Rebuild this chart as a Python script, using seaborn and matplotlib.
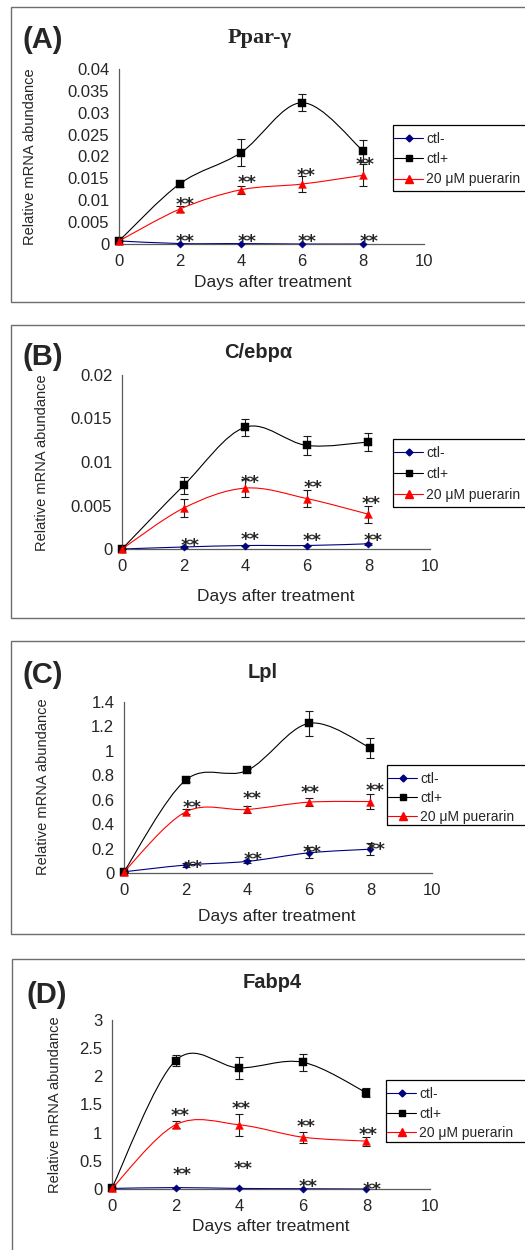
import numpy as np
import matplotlib
matplotlib.use("Agg")
import matplotlib.pyplot as plt
import seaborn as sns
from matplotlib.path import Path
from matplotlib.patches import PathPatch, Rectangle
from matplotlib.lines import Line2D
from matplotlib.transforms import offset_copy

# ---- data ----
days = [0, 2, 4, 6, 8]
groups = ["ctl-", "ctl+", "20 μM puerarin"]
genes = ["Ppar-γ", "C/ebpα", "Lpl", "Fabp4"]
panel_tags = ["(A)", "(B)", "(C)", "(D)"]

pparg_neg = [0.0007, 0.0001, 0.0001, 0.0, 0.0]
pparg_neg_err = [0.0, 0.0, 0.0, 0.0, 0.0]
pparg_pos = [0.0007, 0.0138, 0.0209, 0.0323, 0.0213]
pparg_pos_err = [0.0001, 0.0007, 0.003, 0.002, 0.0025]
pparg_pue = [0.0007, 0.0080, 0.0124, 0.0137, 0.0157]
pparg_pue_err = [0.0001, 0.0007, 0.0009, 0.0018, 0.0025]

cebpa_neg = [0.0, 0.00023, 0.0004, 0.0004, 0.0006]
cebpa_neg_err = [0.0, 0.0001, 0.0001, 0.0001, 0.0001]
cebpa_pos = [0.0, 0.0073, 0.0140, 0.0119, 0.0123]
cebpa_pos_err = [0.0, 0.001, 0.001, 0.0011, 0.001]
cebpa_pue = [0.0, 0.0047, 0.0070, 0.0058, 0.0040]
cebpa_pue_err = [0.0, 0.001, 0.001, 0.001, 0.001]

lpl_neg = [0.01, 0.065, 0.095, 0.165, 0.195]
lpl_neg_err = [0.0, 0.015, 0.01, 0.045, 0.05]
lpl_pos = [0.01, 0.76, 0.84, 1.225, 1.025]
lpl_pos_err = [0.0, 0.015, 0.015, 0.1, 0.08]
lpl_pue = [0.01, 0.50, 0.52, 0.58, 0.585]
lpl_pue_err = [0.0, 0.02, 0.025, 0.035, 0.06]

fabp4_neg = [0.01, 0.025, 0.01, 0.005, 0.0]
fabp4_neg_err = [0.0, 0.0, 0.0, 0.0, 0.0]
fabp4_pos = [0.02, 2.28, 2.15, 2.25, 1.71]
fabp4_pos_err = [0.0, 0.09, 0.2, 0.15, 0.08]
fabp4_pue = [0.01, 1.14, 1.14, 0.92, 0.85]
fabp4_pue_err = [0.0, 0.06, 0.2, 0.1, 0.08]

# y axis: top and step
ymax = [0.04, 0.02, 1.4, 3.0]
ystep = [0.005, 0.005, 0.2, 0.5]

# significance marks "**" (centre x, centre y in data units)
star_x = [[2.16, 4.19, 6.13, 8.07, 2.16, 4.19, 6.17, 8.2],
          [4.16, 6.2, 8.08, 2.2, 4.16, 6.16, 8.14],
          [2.2, 4.15, 6.04, 8.15, 2.25, 4.2, 6.12, 8.2],
          [2.14, 4.05, 6.1, 8.06, 2.19, 4.13, 6.17, 8.18]]
star_y = [[0.0100, 0.0152, 0.0166, 0.0192, 0.0016, 0.0016, 0.0016, 0.0016],
          [0.0082, 0.0076, 0.0058, 0.00096, 0.0016, 0.0015, 0.0015],
          [0.571, 0.644, 0.693, 0.715, 0.082, 0.15, 0.204, 0.226],
          [1.39, 1.51, 1.19, 1.05, 0.33, 0.44, 0.124, 0.07]]

means = [[pparg_neg, pparg_pos, pparg_pue], [cebpa_neg, cebpa_pos, cebpa_pue],
         [lpl_neg, lpl_pos, lpl_pue], [fabp4_neg, fabp4_pos, fabp4_pue]]
errs = [[pparg_neg_err, pparg_pos_err, pparg_pue_err], [cebpa_neg_err, cebpa_pos_err, cebpa_pue_err],
        [lpl_neg_err, lpl_pos_err, lpl_pue_err], [fabp4_neg_err, fabp4_pos_err, fabp4_pue_err]]

# ---- layout (pixels, top-left origin) ----
W, H = 525, 1250
axes_px = [(119, 69, 424, 244), (122, 375, 430, 549), (124, 702, 432, 873), (112, 1020, 430, 1189)]
frame_px = [(11, 7, 540, 302), (11, 325, 540, 618), (11, 641, 540, 934), (12, 959, 540, 1275)]
title_px = [(260, 38), (258, 353), (263, 672), (272, 982)]
tag_px = [(22, 40), (22, 357), (22, 675), (27, 995)]
ylab_px = [(30, 157), (42, 463), (43, 787), (55, 1105)]
xlab_px = [(273, 283), (276, 597), (277, 917), (271, 1226)]
legend_px = [(393, 125, 191, 0.45), (393, 439, 507, 0.5), (387, 765, 825, 0.35), (386, 1080, 1142, 0.4)]

colors = ["#000080", "#000000", "#FF0000"]
markers = ["D", "s", "^"]
msizes = [14, 28, 32]
leg_ms = [3.5, 5, 5.5]
star_fs = 13

sns.set_style("white")
plt.rcParams["font.family"] = ["Liberation Sans", "DejaVu Sans"]


def fx(x, y):
    return x / W, 1 - y / H


def smooth_path(xs, ys):
    # Excel-style smoothed line as cubic Bezier segments
    pts = np.column_stack([xs, ys]).astype(float)
    n = len(pts)
    verts = [pts[0]]
    codes = [Path.MOVETO]
    for i in range(n - 1):
        p0 = pts[max(i - 1, 0)]
        p1 = pts[i]
        p2 = pts[i + 1]
        p3 = pts[min(i + 2, n - 1)]
        verts += [p1 + (p2 - p0) / 6, p2 - (p3 - p1) / 6, p2]
        codes += [Path.CURVE4] * 3
    return Path(verts, codes)


fig = plt.figure(figsize=(W / 100, H / 100), dpi=100)

for k in range(4):
    l, t, r, b = frame_px[k]
    fig.add_artist(Rectangle(fx(l, b), (r - l) / W, (b - t) / H, transform=fig.transFigure,
                             fill=False, ec="#6e6e6e", lw=1.0))

    l, t, r, b = axes_px[k]
    ax = fig.add_axes([l / W, 1 - b / H, (r - l) / W, (b - t) / H])
    ax.set_facecolor("none")

    for g in range(3):
        y = means[k][g]
        e = errs[k][g]
        ax.add_patch(PathPatch(smooth_path(days, y), fill=False, ec=colors[g], lw=0.8, zorder=2 + g))
        ax.errorbar(days, y, yerr=e, fmt="none", ecolor="#1a1a1a", elinewidth=0.8,
                    capsize=2.6, capthick=0.8, zorder=2 + g)
        sns.scatterplot(x=days, y=y, marker=markers[g], s=msizes[g], color=colors[g],
                        edgecolor=colors[g], linewidth=0.3, ax=ax, zorder=3 + g, clip_on=False)

    stars_tr = offset_copy(ax.transData, fig=fig, y=-0.555 * star_fs, units="points")
    for sx, sy in zip(star_x[k], star_y[k]):
        ax.text(sx, sy, "**", ha="center", va="baseline", fontsize=star_fs, fontweight="bold",
                family="DejaVu Sans", transform=stars_tr, zorder=10)

    ax.set_xlim(0, 10)
    ax.set_ylim(0, ymax[k])
    ax.set_xticks(range(0, 11, 2))
    ax.set_yticks(np.arange(0, ymax[k] + ystep[k] / 2, ystep[k]))
    ax.yaxis.set_major_formatter(plt.FuncFormatter(lambda v, p: f"{round(v, 4):g}"))
    ax.tick_params(axis="both", direction="in", length=4, width=0.9, color="#5a5a5a", labelsize=12)
    ax.tick_params(axis="y", pad=7)
    ax.tick_params(axis="x", pad=7)
    sns.despine(ax=ax)
    for s in ["left", "bottom"]:
        ax.spines[s].set_color("#5a5a5a")
        ax.spines[s].set_linewidth(0.9)

    # texts
    if k == 0:
        fig.text(*fx(*title_px[k]), genes[k], ha="center", va="center", fontsize=16,
                 fontweight="bold", family="Liberation Serif")
    else:
        fig.text(*fx(*title_px[k]), genes[k], ha="center", va="center", fontsize=14.5, fontweight="bold")
    fig.text(*fx(*tag_px[k]), panel_tags[k], ha="left", va="center", fontsize=21, fontweight="bold")
    fig.text(*fx(*ylab_px[k]), "Relative mRNA abundance", ha="center", va="center",
             rotation=90, fontsize=10.5)
    fig.text(*fx(*xlab_px[k]), "Days after treatment", ha="center", va="center", fontsize=12.5)

    # legend with a box running off the right edge
    ll, lt, lb, lsp = legend_px[k]
    fig.add_artist(Rectangle(fx(ll, lb), (W + 20 - ll) / W, (lb - lt) / H, transform=fig.transFigure,
                             fill=False, ec="#000000", lw=0.9))
    handles = [Line2D([], [], color=colors[g], marker=markers[g], markersize=leg_ms[g], lw=0.8)
               for g in range(3)]
    ax.legend(handles, groups, loc="upper left", bbox_to_anchor=fx(ll + 1, lt + 7),
              bbox_transform=fig.transFigure, frameon=False, fontsize=10, handlelength=2.1,
              handletextpad=0.2, labelspacing=lsp, borderpad=0, borderaxespad=0)

fig.savefig("out.png", dpi=100)
